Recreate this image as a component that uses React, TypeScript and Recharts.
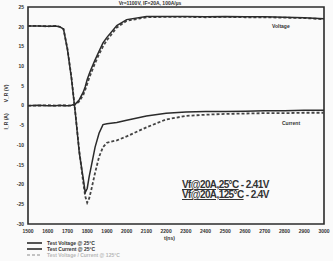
import React from "react";
import { LineChart, Line, XAxis, YAxis, ReferenceArea } from "recharts";

// time axis (ns) and the four traces
const times = [
  1500, 1550, 1600, 1640, 1660, 1680, 1700, 1720, 1740, 1760, 1780, 1790, 1800,
  1810, 1820, 1840, 1860, 1880, 1900, 1950, 2000, 2100, 2200, 2300, 2400, 2500,
  2600, 2700, 2800, 2900, 3000,
];
const voltage25 = [
  0, 0.1, 0, 0, 0.1, 0, 0, 0.1, 0.4, 1.5, 3.4, 4.8, 6.6, 8.0, 9.3, 11.6, 13.8,
  15.9, 17.3, 20.3, 21.8, 22.6, 22.6, 22.6, 22.5, 22.6, 22.5, 22.5, 22.4, 22.3,
  22.0,
];
const voltage125 = [
  0, 0, 0.1, 0, 0, 0.1, 0, 0, 0.3, 1.1, 2.7, 4.0, 5.5, 7.0, 8.3, 10.8, 13.0,
  15.0, 16.6, 19.8, 21.5, 22.4, 22.5, 22.5, 22.4, 22.5, 22.4, 22.4, 22.3, 22.2,
  21.9,
];
const current25 = [
  20.2, 20.2, 20.1, 20.2, 20.0, 19.4, 14.2, 7.0, -2.0, -12.0, -18.5, -22.0,
  -21.0, -18.0, -15.5, -10.5, -7.0, -4.8, -4.6, -4.3, -3.7, -2.6, -1.9, -1.6,
  -1.5, -1.5, -1.4, -1.3, -1.3, -1.2, -1.2,
];
const current125 = [
  20.2, 20.2, 20.1, 20.2, 20.0, 19.4, 14.4, 7.2, -1.8, -11.5, -19.5, -23.0,
  -24.6, -23.5, -21.5, -17.0, -13.0, -10.5, -9.4, -8.8, -7.8, -5.5, -3.5, -2.6,
  -2.3, -2.1, -2.0, -1.9, -1.9, -1.8, -1.8,
];

const xTicks = [
  1500, 1600, 1700, 1800, 1900, 2000, 2100, 2200, 2300, 2400, 2500, 2600, 2700,
  2800, 2900, 3000,
];
const yTicks = [25, 20, 15, 10, 5, 0, -5, -10, -15, -20, -25, -30];

const legendItems = [
  { label: "Test Voltage @ 25°C", dash: undefined, faint: false },
  { label: "Test Current @ 25°C", dash: undefined, faint: false },
  { label: "Test Voltage / Current @ 125°C", dash: "3 2", faint: true },
];

const rows = times.map((t, i) => ({
  t,
  v25: voltage25[i],
  v125: voltage125[i],
  i25: current25[i],
  i125: current125[i],
}));

const ink = "#2b2b2b";
const tickStyle = { fontSize: 5, fontWeight: 700, fill: "#333", fontFamily: "Liberation Sans" };

export default function App() {
  return (
    <div
      style={{
        position: "fixed",
        left: 0,
        top: 0,
        width: 333,
        height: 261,
        background: "#fafafa",
        fontFamily: "Liberation Sans",
        color: "#333",
      }}
    >
      <LineChart
        width={333}
        height={261}
        data={rows}
        margin={{ top: 7, right: 9, bottom: 23, left: 0 }}
      >
        <XAxis
          dataKey="t"
          type="number"
          domain={[1500, 3000]}
          ticks={xTicks}
          axisLine={false}
          tickLine={false}
          tickSize={4}
          tickMargin={1}
          height={14}
          tick={tickStyle}
          interval={0}
        />
        <YAxis
          type="number"
          domain={[-30, 25]}
          ticks={yTicks}
          axisLine={false}
          tickLine={false}
          tickSize={4}
          tickMargin={0}
          width={28}
          tick={tickStyle}
          interval={0}
        />
        <ReferenceArea
          x1={1500}
          x2={3000}
          y1={-30}
          y2={25}
          fill="none"
          stroke={ink}
          strokeWidth={1.6}
          ifOverflow="visible"
        />
        <Line
          dataKey="v125"
          stroke="#444"
          strokeWidth={1.8}
          strokeDasharray="3 2"
          dot={false}
          isAnimationActive={false}
        />
        <Line
          dataKey="i125"
          stroke="#444"
          strokeWidth={1.8}
          strokeDasharray="3 2"
          dot={false}
          isAnimationActive={false}
        />
        <Line
          dataKey="v25"
          stroke={ink}
          strokeWidth={1.5}
          dot={false}
          isAnimationActive={false}
        />
        <Line
          dataKey="i25"
          stroke={ink}
          strokeWidth={1.5}
          dot={false}
          isAnimationActive={false}
        />
      </LineChart>

      {/* title above the frame */}
      <div
        style={{
          position: "absolute",
          left: 0,
          width: 300,
          top: 0,
          textAlign: "center",
          fontSize: 5,
          lineHeight: "6px",
          fontWeight: 700,
        }}
      >
        Vr=1100V, IF=20A, 100A/µs
      </div>

      {/* rotated y label */}
      <div
        style={{
          position: "absolute",
          left: 2,
          top: 108,
          width: 8,
          height: 0,
        }}
      >
        <div
          style={{
            position: "absolute",
            left: -40,
            top: -4,
            width: 88,
            textAlign: "center",
            fontSize: 5,
            fontWeight: 700,
            transform: "rotate(-90deg)",
            whiteSpace: "pre",
          }}
        >
          {"I_R (A)        V_R (V)"}
        </div>
      </div>

      <div style={{ position: "absolute", left: 272, top: 23, fontSize: 5, fontWeight: 700 }}>
        Voltage
      </div>
      <div style={{ position: "absolute", left: 282, top: 120, fontSize: 5, fontWeight: 700 }}>
        Current
      </div>

      <div
        style={{
          position: "absolute",
          left: 182,
          top: 180,
          fontSize: 10,
          fontWeight: 700,
          lineHeight: "10px",
          letterSpacing: -0.6,
        }}
      >
        <div>
          <span style={{ textDecoration: "underline" }}>Vf@20A,25°C</span> - 2.41V
        </div>
        <div>
          <span style={{ textDecoration: "underline" }}>Vf@20A,125°C</span> - 2.4V
        </div>
      </div>

      <div
        style={{
          position: "absolute",
          left: 164,
          top: 235,
          fontSize: 5,
          fontWeight: 700,
        }}
      >
        t(ns)
      </div>

      <div style={{ position: "absolute", left: 27, top: 240 }}>
        {legendItems.map((it) => (
          <div
            key={it.label}
            style={{
              display: "flex",
              alignItems: "center",
              height: 6,
              opacity: it.faint ? 0.35 : 1,
            }}
          >
            <svg width={16} height={6}>
              <line
                x1={0}
                x2={15}
                y1={3}
                y2={3}
                stroke={ink}
                strokeWidth={1.6}
                strokeDasharray={it.dash}
              />
            </svg>
            <span style={{ fontSize: 5, fontWeight: 700, marginLeft: 4 }}>{it.label}</span>
          </div>
        ))}
      </div>
    </div>
  );
}
